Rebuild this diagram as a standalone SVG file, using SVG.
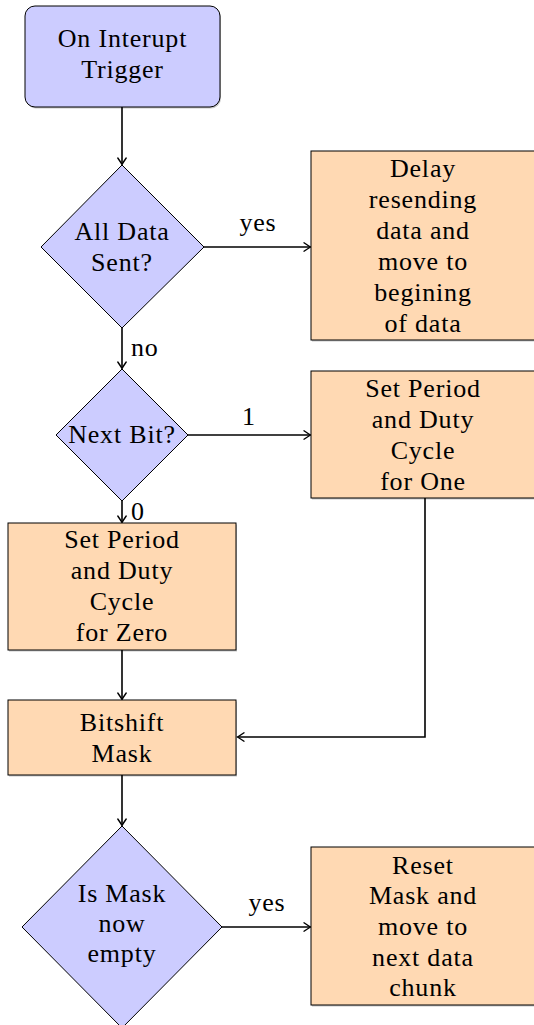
<svg xmlns="http://www.w3.org/2000/svg" width="534" height="1025" viewBox="0 0 534 1025">
<style>
.blue{fill:#ccccff;stroke:#000;stroke-width:1}
.orange{fill:#ffd9b3;stroke:#000;stroke-width:1}
.shadow{fill:#000;opacity:0.22}
text{font-family:"Liberation Serif","Times New Roman",serif;font-size:26px;fill:#000;letter-spacing:0.8px}
.c{text-anchor:middle}
.edge{fill:none;stroke:#000;stroke-width:1.6}
</style>
<defs>
<marker id="arr" markerUnits="userSpaceOnUse" markerWidth="14" markerHeight="12" viewBox="-8 -6 10 12" refX="0" refY="0" orient="auto">
<path d="M-6.5,-4.2 Q-2.2,-1.2 0,0 Q-2.2,1.2 -6.5,4.2" fill="none" stroke="#000" stroke-width="1.4" stroke-linecap="round"/>
</marker>
</defs>
<g id="connectors">
<path class="edge" d="M122,107 V164.5" marker-end="url(#arr)"/>
<path class="edge" d="M204,247 H310.5" marker-end="url(#arr)"/>
<path class="edge" d="M122,328 V368.5" marker-end="url(#arr)"/>
<path class="edge" d="M188,435 H310.5" marker-end="url(#arr)"/>
<path class="edge" d="M122,501 V522.5" marker-end="url(#arr)"/>
<path class="edge" d="M122,650 V699.5" marker-end="url(#arr)"/>
<path class="edge" d="M425,498 V737 H237.5" marker-end="url(#arr)"/>
<path class="edge" d="M122,775 V825.5" marker-end="url(#arr)"/>
<path class="edge" d="M222,927 H310.5" marker-end="url(#arr)"/>
<text class="c" x="258" y="231">yes</text>
<text x="131" y="356">no</text>
<text class="c" x="249" y="425">1</text>
<text x="131" y="520">0</text>
<text class="c" x="267" y="911">yes</text>
</g>
<g id="start">
<rect class="shadow" x="26" y="7.5" width="195" height="101" rx="10"/>
<rect class="blue" x="25" y="6" width="195" height="101" rx="10"/>
<text class="c" x="122.5" y="47">On Interupt</text>
<text class="c" x="122.5" y="78">Trigger</text>
</g>
<g id="allsent">
<polygon class="blue" points="122,165 204,247 122,328 41,247"/>
<text class="c" x="122" y="240">All Data</text>
<text class="c" x="122" y="271">Sent?</text>
</g>
<g id="delay">
<rect class="shadow" x="312" y="152.5" width="224" height="189"/>
<rect class="orange" x="311" y="151" width="224" height="189"/>
<text class="c" x="423" y="177">Delay</text>
<text class="c" x="423" y="208">resending</text>
<text class="c" x="423" y="239">data and</text>
<text class="c" x="423" y="270">move to</text>
<text class="c" x="423" y="301">begining</text>
<text class="c" x="423" y="332">of data</text>
</g>
<g id="nextbit">
<polygon class="blue" points="122,369 188,435 122,501 56,435"/>
<text class="c" x="122" y="443">Next Bit?</text>
</g>
<g id="setone">
<rect class="shadow" x="312" y="372.5" width="224" height="127"/>
<rect class="orange" x="311" y="371" width="224" height="127"/>
<text class="c" x="423" y="397">Set Period</text>
<text class="c" x="423" y="428">and Duty</text>
<text class="c" x="423" y="459">Cycle</text>
<text class="c" x="423" y="490">for One</text>
</g>
<g id="setzero">
<rect class="shadow" x="9" y="524.5" width="228" height="127"/>
<rect class="orange" x="8" y="523" width="228" height="127"/>
<text class="c" x="122" y="548">Set Period</text>
<text class="c" x="122" y="579">and Duty</text>
<text class="c" x="122" y="610">Cycle</text>
<text class="c" x="122" y="641">for Zero</text>
</g>
<g id="bitshift">
<rect class="shadow" x="9" y="701.5" width="228" height="75"/>
<rect class="orange" x="8" y="700" width="228" height="75"/>
<text class="c" x="122" y="731">Bitshift</text>
<text class="c" x="122" y="762">Mask</text>
</g>
<g id="maskempty">
<polygon class="blue" points="122,826 222,927 122,1028 22,927"/>
<text class="c" x="122" y="902">Is Mask</text>
<text class="c" x="122" y="932">now</text>
<text class="c" x="122" y="962">empty</text>
</g>
<g id="reset">
<rect class="shadow" x="312" y="848.5" width="224" height="158"/>
<rect class="orange" x="311" y="847" width="224" height="158"/>
<text class="c" x="423" y="874">Reset</text>
<text class="c" x="423" y="904">Mask and</text>
<text class="c" x="423" y="935">move to</text>
<text class="c" x="423" y="966">next data</text>
<text class="c" x="423" y="996">chunk</text>
</g>
</svg>
